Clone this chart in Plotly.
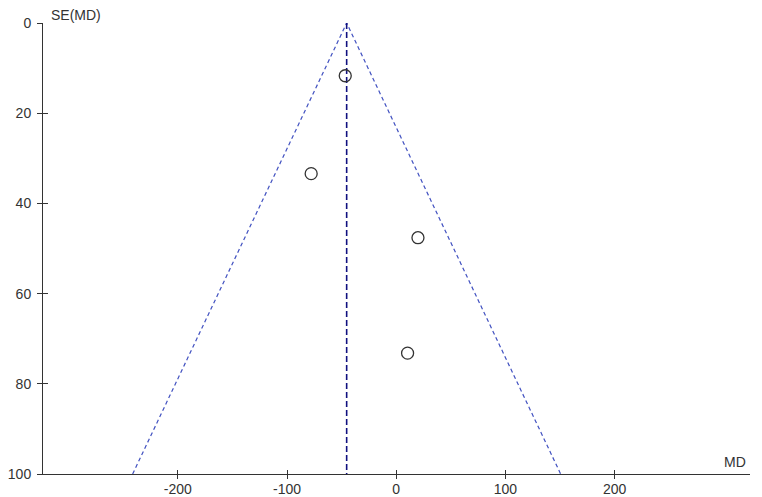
import plotly.graph_objects as go

# Study data (mean difference, standard error)
md = [-46.7, -77.9, 19.9, 10.4]
se = [11.7, 33.4, 47.6, 73.2]
pooled_md = -45.4
z = 1.96
se_max = 100

x_tickvals = [-200, -100, 0, 100, 200]
x_ticktext = ["-200", "-100", "0", "100", "200"]
y_tickvals = [0, 20, 40, 60, 80, 100]
y_ticktext = ["0", "20", "40", "60", "80", "100"]

font = dict(family="Liberation Sans, Arial, sans-serif", size=14, color="#333333")
x_range = [-323.5, 324]
y_range = [100, 0]
tick_color = "#333333"

fig = go.Figure()

# Funnel limits
fig.add_trace(go.Scatter(
    x=[pooled_md - z * se_max, pooled_md, pooled_md + z * se_max],
    y=[se_max, 0, se_max],
    mode="lines",
    line=dict(color="#4050c0", width=1.2, dash="4px,3px"),
    hoverinfo="skip", showlegend=False))

# Pooled estimate line
fig.add_trace(go.Scatter(
    x=[pooled_md, pooled_md], y=[0, se_max],
    mode="lines",
    line=dict(color="#10107f", width=1.6, dash="6px,3px"),
    hoverinfo="skip", showlegend=False))

# Studies
fig.add_trace(go.Scatter(
    x=md, y=se, mode="markers",
    marker=dict(symbol="circle-open", size=12, color="#333333", line=dict(width=1.3)),
    showlegend=False))

# invisible traces for tick-only overlay axes (crossing ticks)
for xa, ya in (("x2", "y2"), ("x3", "y3")):
    fig.add_trace(go.Scatter(x=[None], y=[None], xaxis=xa, yaxis=ya,
                             mode="markers", showlegend=False, hoverinfo="skip"))

axis_common = dict(showgrid=False, zeroline=False, automargin=False)

fig.update_layout(
    width=762, height=497,
    margin=dict(l=43, r=12, t=23, b=23),
    paper_bgcolor="white", plot_bgcolor="white",
    font=font,
    xaxis=dict(range=x_range, tickvals=x_tickvals, ticktext=x_ticktext,
               showline=True, linecolor=tick_color, linewidth=1,
               ticks="", ticklabelstandoff=2, **axis_common),
    yaxis=dict(range=y_range, tickvals=y_tickvals, ticktext=y_ticktext,
               showline=True, linecolor=tick_color, linewidth=1,
               ticks="", ticklabelstandoff=8, **axis_common),
    xaxis2=dict(range=x_range, tickvals=x_tickvals, overlaying="x", side="bottom",
                anchor="y2", showticklabels=False, showline=False,
                ticks="inside", ticklen=4, tickcolor=tick_color, **axis_common),
    yaxis2=dict(range=y_range, tickvals=y_tickvals, overlaying="y", side="left",
                anchor="x2", showticklabels=False, showline=False,
                ticks="inside", ticklen=5, tickcolor=tick_color, **axis_common),
    xaxis3=dict(range=x_range, tickvals=x_tickvals, overlaying="x", side="bottom",
                anchor="y3", showticklabels=False, showline=False,
                ticks="outside", ticklen=4, tickcolor=tick_color, **axis_common),
    yaxis3=dict(range=y_range, tickvals=y_tickvals, overlaying="y", side="left",
                anchor="x3", showticklabels=False, showline=False,
                ticks="outside", ticklen=5, tickcolor=tick_color, **axis_common),
    annotations=[
        dict(text="SE(MD)", xref="paper", yref="paper", x=0.0, y=1.0,
             xanchor="left", yanchor="bottom", xshift=6, yshift=-2,
             showarrow=False, font=font),
        dict(text="MD", xref="paper", yref="paper", x=1.0, y=0.0,
             xanchor="right", yanchor="bottom", xshift=-2, yshift=2,
             showarrow=False, font=font),
    ],
)

fig.write_html("out.html", config={"displayModeBar": False},
               post_script="document.body.style.margin='0';")
